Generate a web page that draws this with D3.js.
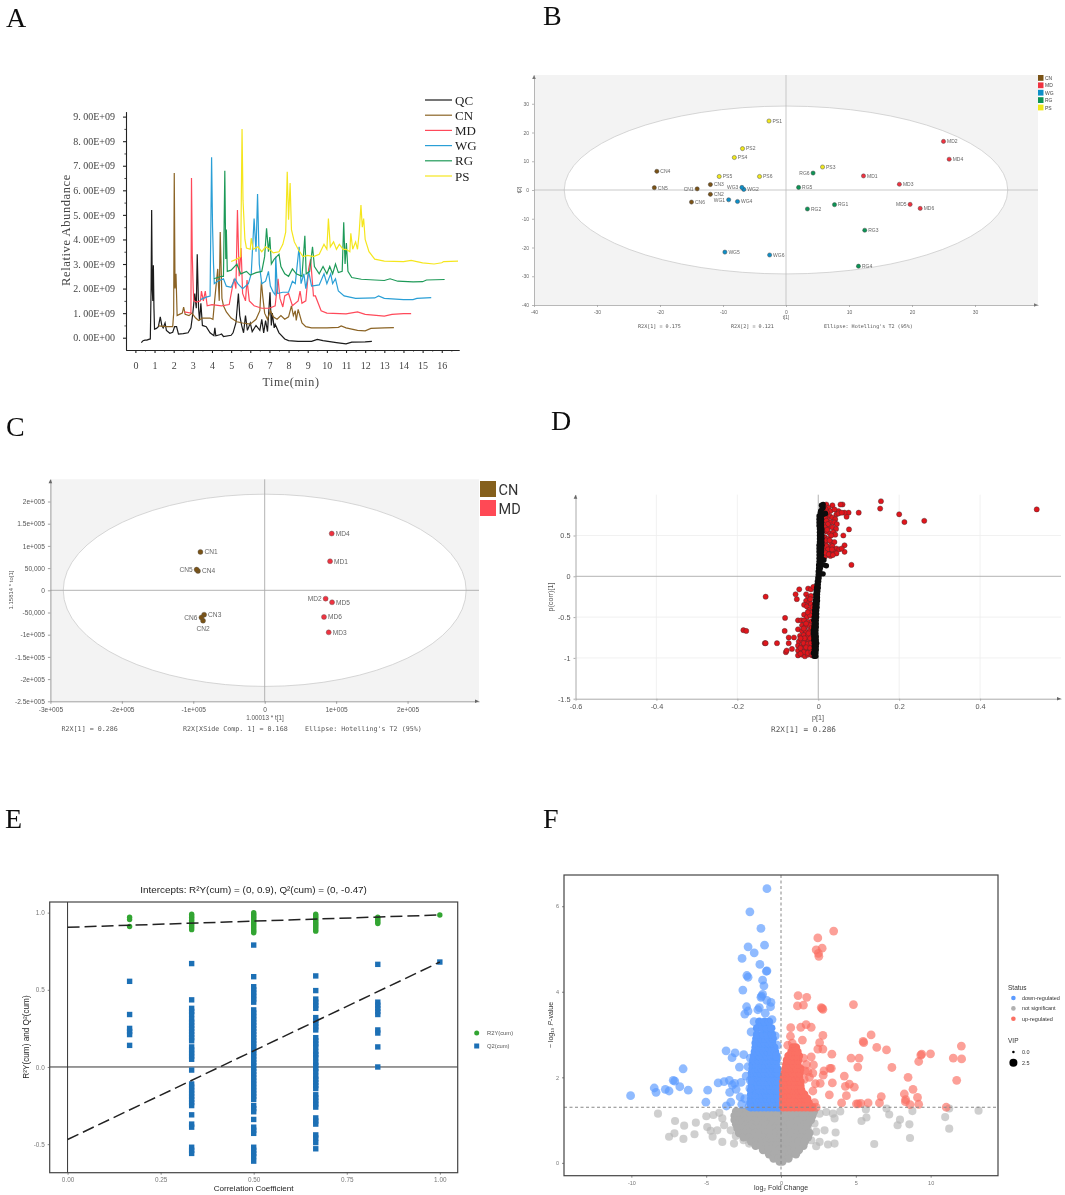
<!DOCTYPE html>
<html><head><meta charset="utf-8"><title>Metabolomics panels</title>
<script src="https://cdnjs.cloudflare.com/ajax/libs/d3/7.8.5/d3.min.js"></script>
<style>html,body{margin:0;padding:0;background:#fff}svg{display:block}text{font-family:"Liberation Sans",Arial,sans-serif}</style>
</head><body><svg id="c" width="1065" height="1195" viewBox="0 0 1065 1195"><defs><filter id="soft" x="0" y="0" width="100%" height="100%"><feGaussianBlur stdDeviation="0.35"/></filter></defs></svg>
<script>
// ---------- Panel A data: [time, abundance in 1e9]
const chromNames = ["QC","CN","MD","WG","RG","PS"];
const chromColors = ["#1a1a1a","#8b6425","#ff4a5a","#2a9fd6","#1f9a58","#f5e61e"];
const chromTickY = [0,1,2,3,4,5,6,7,8,9];
const chromMinorY = [.5,1.5,2.5,3.5,4.5,5.5,6.5,7.5,8.5];
const chromTickLabels = ["0. 00E+00","1. 00E+09","2. 00E+09","3. 00E+09","4. 00E+09","5. 00E+09","6. 00E+09","7. 00E+09","8. 00E+09","9. 00E+09"];
const chromTickX = [0,1,2,3,4,5,6,7,8,9,10,11,12,13,14,15,16];
const chromMinorX = [.5,1.5,2.5,3.5,4.5,5.5,6.5,7.5,8.5,9.5,10.5,11.5,12.5,13.5,14.5,15.5,16.5];
const qcLine = [[.31,-.2],[.4,-.12],[.5,-.1],[.6,-.1],[.7,-.07],[.78,-.05],[.82,2],[.85,5.2],[.88,2],[.91,1.5],[.94,2.95],[.97,1.2],[1,.35],[1.1,.38],[1.2,.45],[1.3,.85],[1.38,.5],[1.45,.4],[1.55,.6],[1.62,.3],[1.8,.18],[1.95,.22],[2.05,.45],[2.15,.45],[2.25,.15],[2.5,.17],[2.75,.2],[2.9,.4],[3,1],[3.1,1.8],[3.18,1.2],[3.23,3.4],[3.3,1.2],[3.35,.7],[3.42,1.4],[3.5,.5],[3.7,.45],[3.9,.2],[4.1,.08],[4.15,.4],[4.2,.08],[4.4,.12],[4.5,.15],[4.6,.05],[5,.1],[5.1,.2],[5.25,.6],[5.38,1.8],[5.45,.9],[5.55,.5],[5.65,.2],[5.75,.9],[5.85,.3],[6,.6],[6.1,.25],[6.3,.5],[6.5,.3],[6.6,.75],[6.7,.2],[6.8,.7],[6.9,.25],[7.03,1.85],[7.1,.5],[7.15,1],[7.25,.4],[7.3,.55],[7.5,.2],[7.8,-.05],[8,-.12],[8.5,-.15],[9.2,-.15],[9.5,-.07],[9.8,-.12],[10.5,-.2],[11,-.25],[11.3,-.18],[12,-.17],[12.35,-.15]];
const cnLine = [[1.2,.48],[1.6,.45],[1.95,.45],[2,1],[2.03,6.7],[2.07,2],[2.12,2.6],[2.18,.9],[2.3,.95],[2.45,1],[2.52,1.25],[2.6,.95],[2.8,.9],[2.95,1],[3.15,.8],[3.3,.7],[3.5,.8],[3.9,.8],[4.05,.75],[4.15,1.6],[4.3,2.8],[4.38,1.5],[4.43,4.3],[4.52,1.6],[4.6,1.3],[4.75,1.05],[5,.8],[5.3,.65],[5.6,.6],[6,.55],[6.3,.75],[6.5,1.1],[6.58,2.3],[6.65,1.7],[6.75,1],[6.9,.75],[7.05,1.1],[7.2,.85],[7.4,.75],[7.6,.9],[7.8,.75],[8,.85],[8.15,1.3],[8.25,.9],[8.35,1.1],[8.4,.7],[8.5,1.15],[8.7,.6],[8.9,.45],[9.2,.4],[10,.4],[10.6,.42],[10.75,.48],[11,.4],[11.6,.3],[12,.28],[12.3,.38],[13,.4],[13.5,.41]];
const mdLine = [[2.55,1.05],[2.9,1],[2.93,6.5],[2.97,3.4],[3.02,2],[3.05,1.5],[3.2,1.45],[3.4,1.5],[3.45,1.9],[3.55,1.5],[3.65,1.9],[3.75,1.3],[4,1.35],[4.5,1.3],[4.9,1.35],[5.05,2],[5.15,2.4],[5.25,2],[5.33,5.2],[5.42,2.5],[5.52,3.65],[5.6,1.8],[5.75,1.5],[5.83,2.35],[5.95,1.5],[6.2,1.3],[6.6,1.2],[7,1.2],[7.3,1.3],[7.45,2.4],[7.55,1.6],[7.7,1.25],[7.8,1.7],[8,1.8],[8.2,1.3],[8.5,1.5],[8.6,1.9],[8.7,1.4],[8.9,1.5],[9.05,2.8],[9.15,3.2],[9.3,1.7],[9.4,1.7],[9.7,1.1],[10,1],[11,.97],[11.6,1.05],[12,.95],[13,.88],[13.4,.95],[14,.98],[14.4,.98]];
const wgLine = [[3.4,1.55],[3.7,1.65],[3.9,1.7],[3.98,7.35],[4.03,4.5],[4.08,3],[4.12,2.2],[4.3,2.3],[4.6,2.4],[4.75,2.1],[5,2.05],[5.2,2.4],[5.35,2.2],[5.6,2],[5.9,2.2],[6.05,2.6],[6.2,4.85],[6.3,3.5],[6.38,5.85],[6.47,3],[6.6,2.2],[6.8,2.3],[6.95,2.7],[7.05,2.1],[7.2,1.85],[7.3,1.75],[7.33,3.3],[7.42,1.8],[7.7,1.85],[8,1.85],[8.2,2.3],[8.35,2.2],[8.55,3.7],[8.65,2.2],[8.8,2.6],[8.9,2],[9.05,2.7],[9.2,2.1],[9.6,2.15],[9.85,2.6],[10,2.2],[10.2,2.6],[10.3,2.2],[10.45,2.4],[10.6,1.9],[10.9,1.7],[11.5,1.6],[12.5,1.62],[12.7,1.7],[13,1.6],[14,1.55],[14.5,1.55],[14.7,1.6],[15.45,1.63]];
const rgLine = [[4.1,2.4],[4.5,2.5],[4.6,2.5],[4.67,6.8],[4.72,3.2],[4.75,4.4],[4.8,2.7],[5,2.75],[5.3,3],[5.5,2.6],[5.8,2.7],[6,2.55],[6.3,2.65],[6.6,2.7],[6.75,3.3],[6.85,4.45],[6.95,3.5],[7.02,4.1],[7.1,3],[7.25,3.2],[7.5,3.4],[7.6,2.9],[7.8,2.6],[8,2.5],[8.2,2.8],[8.4,2.6],[8.7,2.5],[8.85,4.15],[8.92,2.6],[9.1,2.7],[9.25,3.7],[9.35,2.9],[9.6,2.6],[9.8,2.9],[10,2.6],[10.15,2.9],[10.3,2.6],[10.45,3],[10.6,2.65],[10.8,2.7],[10.88,4.7],[10.95,3],[11.02,3.85],[11.1,2.7],[11.3,2.45],[11.8,2.38],[12.5,2.35],[13,2.33],[13.3,2.4],[13.7,2.3],[14.5,2.27],[15,2.28],[15.2,2.35],[16.15,2.37]];
const psLine = [[5,3.1],[5.3,3.2],[5.5,3.3],[5.57,8.5],[5.62,5.6],[5.72,4],[5.8,3.65],[6,3.6],[6.05,4.05],[6.15,3.6],[6.4,3.7],[6.6,3.5],[6.8,3.7],[7,3.6],[7.2,3.45],[7.5,3.5],[7.7,3.8],[7.85,4.3],[7.93,6.75],[8,4.8],[8.08,6.3],[8.15,4.4],[8.3,3.9],[8.5,3.6],[8.75,3.3],[9,3.35],[9.3,3.3],[9.6,3.4],[9.85,3.8],[10,3.6],[10.08,4.85],[10.18,3.7],[10.35,3.9],[10.5,3.6],[10.65,3.8],[10.85,3.6],[11,3.6],[11.2,3.5],[11.25,4.25],[11.35,3.6],[11.5,3.9],[11.6,3.6],[11.68,4.2],[11.78,5.4],[11.85,4.5],[11.92,4.85],[12,4],[12.2,3.5],[12.5,3.2],[13,3.12],[14,3.1],[14.4,3.15],[15,3.05],[15.6,3],[16,3.05],[16.1,3.1],[16.85,3.12]];
const chromLines = [qcLine,cnLine,mdLine,wgLine,rgLine,psLine];

// ---------- Panel B data
const pcaGroups = ["CN","MD","WG","RG","PS"];
const pcaColors = ["#7a5215","#ef3340","#0f8fc8","#0c9455","#f0e81e"];
const pcaTicksX = [-40,-30,-20,-10,0,10,20,30];
const pcaTicksY = [-40,-30,-20,-10,0,10,20,30];
const pcaEllipse = [35.2,29.2];
const pcaNames = ["CN1","CN2","CN3","CN4","CN5","CN6","MD1","MD2","MD3","MD4","MD5","MD6","WG1","WG2","WG3","WG4","WG5","WG6","RG1","RG2","RG3","RG4","RG5","RG6","PS1","PS2","PS3","PS4","PS5","PS6"];
const pcaT1 = [-14.1,-12,-12,-20.5,-20.9,-15,12.3,25,18,25.9,19.7,21.3,-9.1,-6.7,-7,-7.7,-9.7,-2.6,7.7,3.4,12.5,11.5,2,4.3,-2.7,-6.9,5.8,-8.2,-10.6,-4.2];
const pcaT2 = [.4,-1.5,1.9,6.5,.8,-4.2,4.9,16.9,2,10.7,-5,-6.4,-3.4,.2,.9,-4,-21.6,-22.6,-5.1,-6.6,-14,-26.5,.9,5.9,24,14.4,8,11.3,4.7,4.7];
const pcaLabelLeft = ["CN1","MD5","WG1","WG3","RG6"];

// ---------- Panel C data (units 1e5)
const opls2Names = ["CN1","CN2","CN3","CN4","CN5","CN6","MD1","MD2","MD3","MD4","MD5","MD6"];
const opls2X = [-.9,-.863,-.848,-.934,-.953,-.886,.915,.853,.896,.938,.943,.83];
const opls2Y = [.865,-.684,-.549,.436,.466,-.61,.654,-.188,-.947,1.278,-.27,-.6];
const opls2Groups = ["CN","MD"];
const opls2Colors = ["#7a5215","#ef3340"];
const opls2TicksX = [-3,-2,-1,0,1,2];
const opls2TickLabelsX = ["-3e+005","-2e+005","-1e+005","0","1e+005","2e+005"];
const opls2TicksY = [2,1.5,1,.5,0,-.5,-1,-1.5,-2,-2.5];
const opls2TickLabelsY = ["2e+005","1.5e+005","1e+005","50,000","0","-50,000","-1e+005","-1.5e+005","-2e+005","-2.5e+005"];
const opls2Ellipse = [2.82,2.165];

// ---------- Panel D data [p1, pcorr]
const splotTicksX = [-.6,-.4,-.2,0,.2,.4];
const splotTickLabelsX = ["-0.6","-0.4","-0.2","0","0.2","0.4"];
const splotTicksY = [.5,0,-.5,-1,-1.5];
const splotTickLabelsY = ["0.5","0","-0.5","-1","-1.5"];
const splotRed = [[.155,.92],[.153,.83],[.2,.76],[.213,.665],[.262,.68],[.54,.82],[.1,.78],[.082,.14],[.076,.575],[.065,.38],[.065,.3],[.062,.5],[.075,.78],[.07,.73],[.065,.78],[.06,.88],[.055,.88],[.05,.8],[.035,.87],[.02,.88],[.025,.84],[.03,.8],[.04,.82],[.045,.76],[.05,.77],[.058,.78],[.028,.74],[.035,.72],[.042,.7],[.018,.76],[.022,.7],[.03,.66],[.04,.66],[.046,.64],[.018,.65],[.025,.6],[.035,.6],[.044,.58],[.02,.55],[.028,.53],[.037,.54],[.042,.51],[.016,.48],[.024,.46],[.032,.42],[.04,.42],[.018,.4],[.026,.36],[.035,.37],[.045,.34],[.052,.33],[.015,.34],[.022,.3],[.03,.28],[.038,.3],[.045,.28],[.058,.34],[.02,.26],[.016,.24],[.03,.25],[.014,.85],[.018,.82],[.022,.78],[.016,.72],[.02,.68],[.024,.64],[.016,.6],[.022,.57],[.032,.5],[.018,.44],[.028,.44],[.02,.37],[.024,.33],[.034,.33],[.017,.29],[.026,.27],[.036,.26],
[-.13,-.25],[-.185,-.66],[-.178,-.67],[-.132,-.82],[-.13,-.82],[-.102,-.82],[-.082,-.51],[-.083,-.67],[-.08,-.93],[-.078,-.91],[-.073,-.82],[-.073,-.75],[-.065,-.89],[-.06,-.75],[-.056,-.22],[-.053,-.28],[-.047,-.16],[-.025,-.15],[-.018,-.16],[-.012,-.13],[-.03,-.22],[-.025,-.26],[-.018,-.24],[-.03,-.3],[-.022,-.32],[-.035,-.35],[-.028,-.37],[-.018,-.34],[-.022,-.41],[-.015,-.44],[-.035,-.47],[-.028,-.5],[-.02,-.48],[-.05,-.54],[-.042,-.54],[-.035,-.54],[-.025,-.56],[-.016,-.55],[-.04,-.6],[-.032,-.62],[-.022,-.6],[-.05,-.65],[-.04,-.67],[-.03,-.68],[-.02,-.66],[-.045,-.73],[-.036,-.72],[-.026,-.74],[-.016,-.72],[-.048,-.8],[-.04,-.79],[-.03,-.8],[-.022,-.79],[-.014,-.78],[-.05,-.85],[-.042,-.86],[-.034,-.84],[-.024,-.86],[-.016,-.84],[-.05,-.91],[-.04,-.92],[-.032,-.9],[-.022,-.91],[-.014,-.9],[-.05,-.97],[-.04,-.96],[-.033,-.98],[-.026,-.96],[-.018,-.96],[-.02,-.28],[-.026,-.44],[-.014,-.38],[-.03,-.58],[-.016,-.63],[-.036,-.64],[-.024,-.7],[-.034,-.76],[-.044,-.76],[-.02,-.76],[-.036,-.82],[-.026,-.83],[-.018,-.82],[-.044,-.88],[-.03,-.87],[-.02,-.88],[-.036,-.93],[-.026,-.94],[-.017,-.93],[-.044,-.95],[-.014,-.97]];
const splotBlack = [[-.01,-.98],[-.006,-.98],[-.012,-.94],[-.006,-.94],[-.01,-.9],[-.005,-.9],[-.01,-.86],[-.005,-.86],[-.01,-.82],[-.004,-.82],[-.011,-.78],[-.005,-.78],[-.011,-.74],[-.005,-.74],[-.012,-.7],[-.006,-.7],[-.012,-.66],[-.006,-.66],[-.011,-.62],[-.005,-.62],[-.01,-.58],[-.005,-.58],[-.011,-.54],[-.005,-.54],[-.01,-.5],[-.004,-.5],[-.009,-.46],[-.004,-.46],[-.009,-.42],[-.004,-.42],[-.008,-.38],[-.003,-.38],[-.008,-.34],[-.003,-.34],[-.007,-.3],[-.002,-.3],[-.006,-.26],[-.002,-.26],[-.006,-.22],[-.002,-.22],[-.005,-.18],[-.001,-.18],[-.004,-.14],[0,-.14],[-.003,-.1],[0,-.1],[-.002,-.06],[.001,-.06],[-.001,-.02],[.002,-.02],[0,.02],[.003,.02],[.012,.03],[0,.06],[.004,.06],[.001,.1],[.005,.1],[.02,.13],[.001,.14],[.006,.14],[.014,.14],[.002,.18],[.007,.18],[.002,.22],[.008,.22],[.014,.2],[.002,.26],[.008,.26],[.002,.3],[.008,.3],[.002,.34],[.008,.34],[.002,.38],[.009,.38],[.003,.42],[.009,.42],[.003,.46],[.009,.46],[.003,.5],[.009,.5],[.003,.54],[.009,.54],[.003,.58],[.009,.58],[.002,.62],[.008,.62],[.002,.66],[.008,.66],[.002,.7],[.008,.7],[.002,.74],[.008,.74],[.013,.76],[.018,.77],[.005,.78],[.009,.82],[.006,.8],[.01,.85],[.008,.87],[.012,.88],[.012,.84]];

// ---------- Panel E data
const permX = [1/6,1/3,1/2,2/3,5/6,1];
const permTicksX = [0,.25,.5,.75,1];
const permTicksY = [-.5,0,.5,1];
const permR2 = [[.97,.955,.91],[.99,.98,.97,.96,.95,.94,.93,.92,.91,.9,.89],[1,.99,.98,.97,.96,.95,.94,.93,.92,.91,.9,.89,.88,.87],[.99,.98,.97,.96,.95,.94,.93,.92,.91,.9,.89,.88],[.97,.96,.95,.94,.93],[.985]];
const permQ2 = [[.555,.34,.25,.23,.21,.14],
[.67,.435,.38,.36,.34,.31,.29,.27,.25,.23,.21,.19,.17,.13,.11,.09,.07,.05,-.02,-.11,-.13,-.15,-.17,-.19,-.21,-.23,-.25,-.31,-.37,-.39,-.52,-.54,-.56],
[.79,.585,.52,.5,.48,.46,.44,.42,.37,.35,.33,.31,.29,.27,.25,.23,.21,.19,.17,.15,.13,.11,.09,.07,.05,.03,.01,-.01,-.03,-.05,-.07,-.09,-.11,-.13,-.15,-.17,-.19,-.21,-.25,-.27,-.29,-.34,-.39,-.41,-.43,-.52,-.54,-.56,-.58,-.61],
[.59,.495,.44,.42,.4,.38,.32,.3,.28,.26,.24,.19,.17,.15,.13,.1,.08,.06,.03,.01,-.01,-.03,-.06,-.08,-.1,-.12,-.14,-.18,-.2,-.22,-.24,-.26,-.33,-.35,-.37,-.44,-.46,-.49,-.53],
[.665,.42,.4,.38,.36,.34,.24,.22,.13,0],[.68]];
const permLineR2 = [[0,.905],[1,.985]];
const permLineQ2 = [[0,-.47],[1,.68]];

// ---------- Panel F data
const volTicksX = [-10,-5,0,5,10];
const volTicksY = [0,2,4,6];
const volStatus = ["down-regulated","not significant","up-regulated"];
const volColors = ["#5b9bff","#b0b0b0","#fb6f63"];
const volVipLabels = [0,2.5];
const volDown = [[-.94,6.41],[-2.08,5.87],[-1.34,5.48],[-1.1,5.09],[-2.2,5.05],[-1.79,4.91],[-2.6,4.78],[-1.41,4.64],[-.94,4.49],[-.98,4.48],[-2.28,4.38],[-2.2,4.34],[-1.23,4.27],[-1.14,4.14],[-2.55,4.04],[-1.23,3.94],[-1.34,3.87],[-1.3,3.9],[-.67,3.75],[-.95,3.8],[-2.3,3.65],[-1.45,3.63],[-1.55,3.58],[-2.2,3.55],[-2.42,3.48],[-.7,3.65],[-.6,3.35],[-1.8,3.3],[-1.05,3.5],[-.38,2.97],[-2,3.06],[-3.67,2.62],[-3.07,2.57],[-3.27,2.46],[-2.49,2.53],[-2.78,2.24],[-6.54,2.2],[-7.2,1.93],[-7.1,1.91],[-6.76,1.78],[-6.2,1.7],[-8.47,1.75],[-8.35,1.65],[-7.73,1.72],[-7.48,1.68],[-10.05,1.57],[-4.9,1.7],[-5.02,1.42],[-4.2,1.87],[-3.8,1.9],[-3.45,1.93],[-3.1,1.86],[-3.25,1.82],[-3,1.72],[-3.43,1.65],[-2.67,1.88],[-2.73,1.54],[-3.36,1.42],[-3.65,1.33],[-2.42,1.5],[-2.62,1.37],[-2.33,2.03],[-2.06,1.93],[-2.08,1.74],[-2.13,1.32],[-2.2,2.25],[-2.05,2.45],[-.3,2.5],[-.25,2.75]];
const volDownBlobY = [1.3,1.4,1.5,1.6,1.7,1.8,1.9,2,2.1,2.2,2.3,2.4,2.5,2.6,2.7,2.8,2.9,3,3.15,3.3];
const volDownBlobX = [[-2,-1.75,-1.5,-1.25,-1,-.75,-.5,-.25,-.1],[-2.05,-1.8,-1.55,-1.3,-1.05,-.8,-.55,-.3,-.12],[-2,-1.7,-1.45,-1.2,-.95,-.7,-.45,-.2],[-2,-1.75,-1.5,-1.25,-1,-.75,-.5,-.25],[-2,-1.7,-1.45,-1.2,-.95,-.7,-.45,-.28],[-1.95,-1.75,-1.5,-1.25,-1,-.75,-.5,-.3],[-1.95,-1.65,-1.4,-1.15,-.9,-.65,-.4,-.22],[-1.95,-1.6,-1.35,-1.1,-.85,-.6,-.4,-.22],[-1.95,-1.6,-1.35,-1.1,-.85,-.6,-.35,-.25],[-1.9,-1.55,-1.3,-1.05,-.8,-.55,-.35,-.25],[-1.9,-1.55,-1.3,-1.05,-.8,-.55,-.35],[-1.85,-1.5,-1.25,-1,-.75,-.5,-.3],[-1.8,-1.45,-1.2,-.95,-.7,-.45,-.32],[-1.75,-1.4,-1.15,-.9,-.65,-.4],[-1.7,-1.35,-1.1,-.85,-.6,-.45],[-1.7,-1.35,-1.1,-.85,-.6],[-1.65,-1.3,-1.05,-.8,-.55],[-1.6,-1.2,-.9,-.6],[-1.6,-1.25,-.95,-.65],[-1.45,-1.1,-.8]];
const volUp = [[3.52,5.42],[2.46,5.26],[2.35,4.98],[2.75,5.02],[2.5,4.9],[2.53,4.83],[1.14,3.91],[1.72,3.87],[1.1,3.67],[1.5,3.69],[4.84,3.7],[2.69,3.63],[2.8,3.59],[2.75,3.61],[.65,3.16],[1.32,3.17],[1.68,3.23],[2.02,3.17],[2.8,2.98],[.63,2.96],[1.43,2.87],[2.58,2.81],[6.02,2.99],[5.49,2.84],[5.53,2.81],[6.4,2.7],[7.05,2.64],[.45,2.75],[2.46,2.66],[2.8,2.66],[3.4,2.54],[2.02,2.48],[4.68,2.45],[5.22,2.45],[9.4,2.54],[9.34,2.52],[9.99,2.55],[9.2,2.37],[12.05,2.73],[11.51,2.45],[12.07,2.43],[11.74,1.93],[5.13,2.24],[7.41,2.23],[2.17,2.29],[3.36,2.21],[3.27,2.21],[2.87,2.15],[2.82,2.05],[2.13,2.1],[4.23,2.03],[8.49,2],[3.43,1.87],[2.62,1.86],[4.57,1.84],[4.3,1.79],[4.9,1.77],[8.82,1.72],[2.13,1.68],[3.23,1.59],[4.37,1.57],[6.7,1.55],[8.24,1.61],[9.12,1.53],[8.33,1.48],[8.31,1.43],[6.58,1.4],[5.82,1.4],[5.33,1.39],[5.04,1.38],[5.15,1.38],[4.05,1.4],[8.62,1.36],[9.2,1.37],[11.04,1.3],[2.24,1.41],[2.35,1.3],[1.8,2.13],[1.5,2.45],[1.7,2.3],[1.6,2.15],[1.9,2],[2.3,1.85],[1.55,1.95],[.75,2.8]];
const volUpBlobY = [1.3,1.4,1.5,1.6,1.7,1.8,1.9,2,2.1,2.2,2.3,2.4,2.5,2.6,2.7];
const volUpBlobX = [[.15,.4,.65,.9,1.15,1.4,1.65,1.9,2.1],[.15,.4,.65,.9,1.15,1.4,1.65,1.85],[.15,.4,.65,.9,1.15,1.4,1.6,1.75],[.15,.4,.65,.9,1.15,1.4,1.55],[.15,.4,.65,.9,1.15,1.35],[.15,.4,.65,.9,1.15,1.3],[.15,.4,.65,.9,1.15,1.3],[.2,.45,.7,.95,1.2],[.25,.5,.75,1,1.25],[.3,.55,.8,1.05,1.3],[.35,.6,.85,1.1],[.4,.65,.9,1.15],[.5,.75,1,1.2],[.7,.95,1.1],[.8,1]];
const volNs = [[-8.22,1.15],[-7.08,.98],[-6.47,.87],[-5.69,.94],[-7.12,.69],[-7.48,.61],[-6.52,.56],[-5.78,.67],[-4.99,1.09],[-4.93,.84],[-4.12,1.17],[-4.52,1.12],[-3.92,1.04],[-4.7,.75],[-4.26,.76],[-4.57,.61],[-3.92,.49],[-3.36,.76],[-3.02,.63],[-3.14,.45],[-3.8,.88],[-2.5,.53],[-2.13,.45],[2.58,1.15],[3.02,1.19],[3.47,1.15],[3.96,1.2],[3.58,1.04],[2.24,.92],[1.79,.8],[2.35,.73],[2.91,.76],[3.65,.71],[2.02,.53],[2.58,.49],[3.14,.43],[3.58,.45],[2.35,.39],[6.23,.44],[5.38,.98],[5.71,1.06],[5.67,1.25],[7.05,1.27],[7.23,1.13],[8.78,1.21],[7.95,1.01],[7.79,.88],[8.58,.9],[8.62,.58],[10.97,1.07],[11.24,.8],[11.24,1.27],[13.2,1.22]];
const volNsBlobY = [1.2,1.1,1,.9,.8,.7,.6,.5,.4,.3,.2,.1,.03];
const volNsBlobX = [[-3,-2.65,-2.3,-1.95,-1.6,-1.25,-.9,-.55,-.2,.15,.5,.85,1.2,1.55,1.9,2.2],[-3.1,-2.75,-2.4,-2.05,-1.7,-1.35,-1,-.65,-.3,.05,.4,.75,1.1,1.45,1.8,2.1],[-3.1,-2.75,-2.4,-2.05,-1.7,-1.35,-1,-.65,-.3,.05,.4,.75,1.1,1.45,1.8,2],[-3,-2.65,-2.3,-1.95,-1.6,-1.25,-.9,-.55,-.2,.15,.5,.85,1.2,1.55,1.8],[-2.9,-2.55,-2.2,-1.85,-1.5,-1.15,-.8,-.45,-.1,.25,.6,.95,1.3,1.7],[-2.8,-2.45,-2.1,-1.75,-1.4,-1.05,-.7,-.35,0,.35,.7,1.05,1.4,1.9],[-2.5,-2.15,-1.8,-1.45,-1.1,-.75,-.4,-.05,.3,.65,1,1.35,1.8],[-2,-1.65,-1.3,-.95,-.6,-.25,.1,.45,.8,1.15,1.6],[-1.7,-1.35,-1,-.65,-.3,.05,.4,.75,1.1,1.5],[-1.2,-.85,-.5,-.15,.2,.55,.9,1.2],[-.8,-.45,-.1,.25,.6,1],[-.5,-.15,.2,.5],[-.1,.1]];

// ---------- helpers
const svg = d3.select("#c");
const root = svg.append("g").attr("filter","url(#soft)");
root.append("rect").attr("width",1065).attr("height",1195).attr("fill","#fff");
const serif = '"Liberation Serif","DejaVu Serif",serif';
const mono = '"DejaVu Sans Mono","Liberation Mono",monospace';
function text(g,x,y,s,o={}){const t=g.append("text").attr("x",x).attr("y",y).text(s).attr("font-size",o.size||6).attr("fill",o.fill||"#555").attr("text-anchor",o.anchor||"start");if(o.family)t.style("font-family",o.family);if(o.weight)t.attr("font-weight",o.weight);if(o.rot!=null)t.attr("transform",`rotate(${o.rot} ${x} ${y})`);if(o.spacing)t.attr("letter-spacing",o.spacing);return t;}
function styleAxis(a,c,fs,fc,w,family){a.selectAll("path,line").attr("stroke",c).attr("stroke-width",w);a.selectAll("text").attr("font-size",fs).attr("fill",fc);if(family)a.selectAll("text").style("font-family",family);}
// small arrowheads at the far ends of an x and a y axis (SIMCA plots)
function arrows(g,xr,yb,xl,yt,c){
 g.append("path").attr("d",`M${xr-4},${yb-1.8}L${xr},${yb}L${xr-4},${yb+1.8}Z`).attr("fill",c);
 g.append("path").attr("d",`M${xl-1.8},${yt+4}L${xl},${yt}L${xl+1.8},${yt+4}Z`).attr("fill",c);
}
const panelLetters=[["A",6,27],["B",543,25],["C",6,436],["D",551,430],["E",5,828],["F",543,828]];
panelLetters.forEach(p=>text(root,p[1],p[2],p[0],{size:28,fill:"#111",family:serif}));

// ---------- Panel A
(function(){
 const g=root.append("g");
 const x=d3.scaleLinear([-.49,16.9],[126,459]);
 const y=d3.scaleLinear([-.5,9.2],[350,111.7]);
 const line=d3.line().x(d=>x(d[0])).y(d=>y(d[1]));
 chromLines.forEach((l,i)=>g.append("path").attr("d",line(l)).attr("fill","none").attr("stroke",chromColors[i]).attr("stroke-width",1.2));
 const ax=g.append("g").attr("transform","translate(0,350)").call(d3.axisBottom(x).tickValues(chromTickX).tickFormat(d3.format("d")).tickSize(3).tickSizeOuter(0));
 ax.selectAll("text").attr("dy",0).attr("y",19);
 styleAxis(ax,"#222",10,"#444",1.1,serif);
 const ax2=g.append("g").attr("transform","translate(0,350)").call(d3.axisBottom(x).tickValues(chromMinorX).tickFormat("").tickSize(1.6).tickSizeOuter(0));
 styleAxis(ax2,"#222",1,"#444",.8);
 const ay=g.append("g").attr("transform","translate(126,0)").call(d3.axisLeft(y).tickValues(chromTickY).tickFormat((d,i)=>chromTickLabels[i]).tickSize(3).tickSizeOuter(0));
 ay.selectAll("text").attr("x",-11);
 styleAxis(ay,"#222",10,"#444",1.1,serif);
 const ay2=g.append("g").attr("transform","translate(126,0)").call(d3.axisLeft(y).tickValues(chromMinorY).tickFormat("").tickSize(1.6).tickSizeOuter(0));
 styleAxis(ay2,"#222",1,"#444",.8);
 text(g,291,386,"Time(min)",{size:12,anchor:"middle",fill:"#444",family:serif,spacing:.6});
 text(g,70,230,"Relative Abundance",{size:12.5,anchor:"middle",fill:"#444",family:serif,rot:-90,spacing:.6});
 chromNames.forEach((n,i)=>{const ly=100+i*15.2;
  g.append("line").attr("x1",425).attr("x2",452).attr("y1",ly).attr("y2",ly).attr("stroke",chromColors[i]).attr("stroke-width",1.2);
  text(g,455,ly+4.5,n,{size:13,fill:"#222",family:serif});});
})();

// ---------- Panel B
(function(){
 const g=root.append("g");
 const x=d3.scaleLinear([-40,40],[534,1038]);
 const y=d3.scaleLinear([-40,40],[305,75]);
 g.append("rect").attr("x",x(-40)).attr("y",y(40)).attr("width",x(40)-x(-40)).attr("height",y(-40)-y(40)).attr("fill","#f3f3f3");
 g.append("ellipse").attr("cx",x(0)).attr("cy",y(0)).attr("rx",x(pcaEllipse[0])-x(0)).attr("ry",y(0)-y(pcaEllipse[1])).attr("fill","#fff").attr("stroke","#ccc").attr("stroke-width",.8);
 g.append("line").attr("x1",x(-40)).attr("x2",x(40)).attr("y1",y(0)).attr("y2",y(0)).attr("stroke","#bbb").attr("stroke-width",.8);
 g.append("line").attr("x1",x(0)).attr("x2",x(0)).attr("y1",y(40)).attr("y2",y(-40)).attr("stroke","#bbb").attr("stroke-width",.8);
 const ax=g.append("g").attr("transform","translate(0,305)").call(d3.axisBottom(x).tickValues(pcaTicksX).tickFormat(String).tickSize(2).tickSizeOuter(0));
 styleAxis(ax,"#999",5,"#666",.7);
 const ay=g.append("g").attr("transform","translate(534,0)").call(d3.axisLeft(y).tickValues(pcaTicksY).tickFormat(String).tickSize(2).tickSizeOuter(0));
 styleAxis(ay,"#999",5,"#666",.7);
 arrows(g,1038,305,534,75,"#777");
 pcaNames.forEach((n,i)=>{
  const gi=pcaGroups.indexOf(n.slice(0,2));
  const cx=x(pcaT1[i]),cy=y(pcaT2[i]);
  g.append("circle").attr("cx",cx).attr("cy",cy).attr("r",2.1).attr("fill",pcaColors[gi]).attr("stroke","#444").attr("stroke-width",.45);
  const left=pcaLabelLeft.includes(n);
  text(g,left?cx-3.5:cx+3.5,cy+1.8,n,{size:5,fill:"#666",anchor:left?"end":"start"});
 });
 text(g,786,319,"t[1]",{size:4.5,anchor:"middle"});
 text(g,521,190,"t[2]",{size:4.5,anchor:"middle",rot:-90});
 text(g,638,328,"R2X[1] = 0.175",{size:5.1,family:mono,fill:"#555"});
 text(g,731,328,"R2X[2] = 0.121",{size:5.1,family:mono,fill:"#555"});
 text(g,824,328,"Ellipse: Hotelling's T2 (95%)",{size:5.1,family:mono,fill:"#555"});
 pcaGroups.forEach((n,i)=>{const ly=75+i*7.4;
  g.append("rect").attr("x",1038).attr("y",ly).attr("width",5.5).attr("height",5.8).attr("fill",pcaColors[i]);
  text(g,1045,ly+5,n,{size:5,fill:"#444"});});
})();

// ---------- Panel C
(function(){
 const g=root.append("g");
 const x=d3.scaleLinear([-3,3],[50.4,479]);
 const y=d3.scaleLinear([-2.5,2.5],[701.3,479.3]);
 g.append("rect").attr("x",x(-3)).attr("y",y(2.5)).attr("width",x(3)-x(-3)).attr("height",y(-2.5)-y(2.5)).attr("fill","#f3f3f3");
 g.append("ellipse").attr("cx",x(0)).attr("cy",y(0)).attr("rx",x(opls2Ellipse[0])-x(0)).attr("ry",y(0)-y(opls2Ellipse[1])).attr("fill","#fff").attr("stroke","#ccc").attr("stroke-width",.8);
 g.append("line").attr("x1",x(-3)).attr("x2",x(3)).attr("y1",y(0)).attr("y2",y(0)).attr("stroke","#aaa").attr("stroke-width",.9);
 g.append("line").attr("x1",x(0)).attr("x2",x(0)).attr("y1",y(2.5)).attr("y2",y(-2.5)).attr("stroke","#aaa").attr("stroke-width",.9);
 const ax=g.append("g").attr("transform","translate(0,701.3)").call(d3.axisBottom(x).tickValues(opls2TicksX).tickFormat((d,i)=>opls2TickLabelsX[i]).tickSize(2.5).tickSizeOuter(0));
 ax.selectAll("text").attr("y",6);
 styleAxis(ax,"#888",6.6,"#555",.8);
 const ay=g.append("g").attr("transform","translate(50.4,0)").call(d3.axisLeft(y).tickValues(opls2TicksY).tickFormat((d,i)=>opls2TickLabelsY[i]).tickSize(2.5).tickSizeOuter(0));
 styleAxis(ay,"#888",6.6,"#555",.8);
 arrows(g,479,701.3,50.4,479.3,"#666");
 const leftLab={CN5:1,CN6:1,MD2:1};
 opls2Names.forEach((n,i)=>{
  const gi=opls2Groups.indexOf(n.slice(0,2));
  const cx=x(opls2X[i]),cy=y(opls2Y[i]);
  g.append("circle").attr("cx",cx).attr("cy",cy).attr("r",2.5).attr("fill",opls2Colors[gi]).attr("stroke","#555").attr("stroke-width",.4);
  if(n==="CN2") text(g,cx,cy+10,n,{size:6.6,fill:"#666",anchor:"middle"});
  else {const l=leftLab[n];text(g,l?cx-4:cx+4,cy+2.3,n,{size:6.6,fill:"#666",anchor:l?"end":"start"});}
 });
 text(g,265,720,"1.00013 * t[1]",{size:6.3,anchor:"middle"});
 text(g,13,590,"1.15814 * to[1]",{size:6,anchor:"middle",rot:-90});
 text(g,61.5,731,"R2X[1] = 0.286",{size:6.7,family:mono,fill:"#555"});
 text(g,183,731,"R2X[XSide Comp. 1] = 0.168",{size:6.7,family:mono,fill:"#555"});
 text(g,305,731,"Ellipse: Hotelling's T2 (95%)",{size:6.7,family:mono,fill:"#555"});
 opls2Groups.forEach((n,i)=>{const ly=481+i*19;
  g.append("rect").attr("x",480).attr("y",ly).attr("width",16).attr("height",16).attr("fill",i?"#ff4a55":"#85601f");
  text(g,498.5,ly+13.5,n,{size:14.5,fill:"#333",family:"Roboto"});});
})();

// ---------- Panel D
(function(){
 const g=root.append("g");
 const x=d3.scaleLinear([-.6,.6],[575.5,1061]);
 const y=d3.scaleLinear([-1.5,1],[698.7,494.7]);
 splotTicksX.slice(1).forEach(v=>{if(v!==0)g.append("line").attr("x1",x(v)).attr("x2",x(v)).attr("y1",y(1)).attr("y2",y(-1.5)).attr("stroke","#eee").attr("stroke-width",.8);});
 splotTicksY.slice(0,4).forEach(v=>{if(v!==0)g.append("line").attr("x1",x(-.6)).attr("x2",x(.6)).attr("y1",y(v)).attr("y2",y(v)).attr("stroke","#eee").attr("stroke-width",.8);});
 g.append("line").attr("x1",x(-.6)).attr("x2",x(.6)).attr("y1",y(0)).attr("y2",y(0)).attr("stroke","#aaa").attr("stroke-width",.9);
 g.append("line").attr("x1",x(0)).attr("x2",x(0)).attr("y1",y(1)).attr("y2",y(-1.5)).attr("stroke","#aaa").attr("stroke-width",.9);
 const ax=g.append("g").attr("transform","translate(0,698.7)").call(d3.axisBottom(x).tickValues(splotTicksX).tickFormat((d,i)=>splotTickLabelsX[i]).tickSize(2).tickSizeOuter(0));
 styleAxis(ax,"#aaa",7.3,"#555",1);
 const ay=g.append("g").attr("transform","translate(575.5,0)").call(d3.axisLeft(y).tickValues(splotTicksY).tickFormat((d,i)=>splotTickLabelsY[i]).tickSize(2).tickSizeOuter(0));
 styleAxis(ay,"#aaa",7.3,"#555",1);
 arrows(g,1061,698.7,575.5,494.7,"#666");
 g.selectAll(null).data(splotRed).join("circle").attr("cx",d=>x(d[0])).attr("cy",d=>y(d[1])).attr("r",2.6).attr("fill","#e0141c").attr("stroke","#333").attr("stroke-width",.4);
 g.selectAll(null).data(splotBlack).join("circle").attr("cx",d=>x(d[0])).attr("cy",d=>y(d[1])).attr("r",2.7).attr("fill","#0a0a0a");
 text(g,818,720,"p[1]",{size:7.2,anchor:"middle"});
 text(g,553,597,"p(corr)[1]",{size:7.2,anchor:"middle",rot:-90});
 text(g,803.5,731.5,"R2X[1] = 0.286",{size:7.7,family:mono,anchor:"middle",fill:"#555"});
})();

// ---------- Panel E
(function(){
 const g=root.append("g");
 const x=d3.scaleLinear([-.048,1.048],[49.7,457.7]);
 const y=d3.scaleLinear([-.685,1.069],[1172.7,902]);
 g.append("line").attr("x1",x(0)).attr("x2",x(0)).attr("y1",902).attr("y2",1172.7).attr("stroke","#333").attr("stroke-width",1);
 g.append("line").attr("x1",49.7).attr("x2",457.7).attr("y1",y(0)).attr("y2",y(0)).attr("stroke","#333").attr("stroke-width",1);
 permX.forEach((c,i)=>{
  g.selectAll(null).data(permQ2[i]).join("rect").attr("x",x(c)-2.7).attr("y",d=>y(d)-2.7).attr("width",5.4).attr("height",5.4).attr("fill","#1f6fb5");
  g.selectAll(null).data(permR2[i]).join("circle").attr("cx",x(c)).attr("cy",d=>y(d)).attr("r",2.7).attr("fill","#33a532");
 });
 const line=d3.line().x(d=>x(d[0])).y(d=>y(d[1]));
 [permLineR2,permLineQ2].forEach(l=>g.append("path").attr("d",line(l)).attr("fill","none").attr("stroke","#222").attr("stroke-width",1.5).attr("stroke-dasharray","12 5"));
 g.append("rect").attr("x",49.7).attr("y",902).attr("width",408).attr("height",270.7).attr("fill","none").attr("stroke","#444").attr("stroke-width",1.2);
 const ax=g.append("g").attr("transform","translate(0,1172.7)").call(d3.axisBottom(x).tickValues(permTicksX).tickFormat(d3.format(".2f")).tickSize(2).tickSizeOuter(0));
 ax.select(".domain").remove();
 styleAxis(ax,"#555",6.4,"#777",.7);
 const ay=g.append("g").attr("transform","translate(49.7,0)").call(d3.axisLeft(y).tickValues(permTicksY).tickFormat(d=>d3.format(".1f")(d).replace("−","-")).tickSize(2).tickSizeOuter(0));
 ay.select(".domain").remove();
 styleAxis(ay,"#555",6.4,"#777",.7);
 text(g,253.6,893,"Intercepts: R²Y(cum) = (0, 0.9), Q²(cum) = (0, -0.47)",{size:9.9,anchor:"middle",fill:"#222"});
 text(g,253.6,1191,"Correlation Coefficient",{size:8.1,anchor:"middle",fill:"#222"});
 text(g,29,1037,"R²Y(cum) and Q²(cum)",{size:8.2,anchor:"middle",fill:"#222",rot:-90});
 g.append("circle").attr("cx",476.7).attr("cy",1033).attr("r",2.5).attr("fill","#33a532");
 g.append("rect").attr("x",474.2).attr("y",1043.5).attr("width",5).attr("height",5).attr("fill","#1f6fb5");
 text(g,487,1035,"R2Y(cum)",{size:5.8,fill:"#555"});
 text(g,487,1048,"Q2(cum)",{size:5.8,fill:"#555"});
})();

// ---------- Panel F
(function(){
 const g=root.append("g");
 const x=d3.scaleLinear([-14.5,14.5],[564,998]);
 const y=d3.scaleLinear([-.3,6.73],[1175.7,875]);
 const r=d3.scaleSqrt([0,2.5],[1.2,4.4]);
 const rows=(ys,xs)=>ys.flatMap((yy,i)=>xs[i].map(v=>[v,yy]));
 const layer=(data,c,vip,op)=>g.selectAll(null).data(data).join("circle").attr("cx",d=>x(d[0])).attr("cy",d=>y(d[1])).attr("r",r(vip)).attr("fill",c).attr("opacity",op);
 layer(volNs,"#b5b5b5",2,.65);
 layer(rows(volNsBlobY,volNsBlobX),"#ababab",2.2,1);
 layer(rows(volDownBlobY,volDownBlobX),volColors[0],2.2,1);
 layer(volDown,volColors[0],2.5,.68);
 layer(rows(volUpBlobY,volUpBlobX),volColors[2],2.2,1);
 layer(volUp,volColors[2],2.5,.66);
 g.append("line").attr("x1",x(0)).attr("x2",x(0)).attr("y1",875).attr("y2",1175.7).attr("stroke","#888").attr("stroke-width",1).attr("stroke-dasharray","3 2.5");
 g.append("line").attr("x1",564).attr("x2",998).attr("y1",y(1.3)).attr("y2",y(1.3)).attr("stroke","#888").attr("stroke-width",1).attr("stroke-dasharray","3 2.5");
 g.append("rect").attr("x",564).attr("y",875).attr("width",434).attr("height",300.7).attr("fill","none").attr("stroke","#444").attr("stroke-width",1.2);
 const ax=g.append("g").attr("transform","translate(0,1175.7)").call(d3.axisBottom(x).tickValues(volTicksX).tickFormat(String).tickSize(2).tickSizeOuter(0));
 ax.select(".domain").remove();styleAxis(ax,"#555",5.5,"#777",.7);
 const ay=g.append("g").attr("transform","translate(564,0)").call(d3.axisLeft(y).tickValues(volTicksY).tickFormat(String).tickSize(2).tickSizeOuter(0));
 ay.select(".domain").remove();styleAxis(ay,"#555",5.5,"#777",.7);
 text(g,781,1190,"log₂ Fold Change",{size:7,anchor:"middle",fill:"#333"});
 const yt=text(g,553,1025,"− log₁₀ ",{size:7,anchor:"middle",fill:"#333",rot:-90});
 yt.append("tspan").attr("font-style","italic").text("P");
 yt.append("tspan").text("-value");
 text(g,1008,990,"Status",{size:6.5,fill:"#333"});
 volStatus.forEach((s,i)=>{const ly=998+i*10.4;
  g.append("circle").attr("cx",1013.4).attr("cy",ly).attr("r",2.3).attr("fill",volColors[i]);
  text(g,1022,ly+1.8,s,{size:5.5,fill:"#333"});});
 text(g,1008,1043,"VIP",{size:6.5,fill:"#333"});
 volVipLabels.forEach((v,i)=>{const ly=1052+i*10.7;
  g.append("circle").attr("cx",1013.4).attr("cy",ly).attr("r",i?4:1.3).attr("fill","#000");
  text(g,1022,ly+1.8,d3.format(".1f")(v),{size:5.5,fill:"#333"});});
})();
</script></body></html>
